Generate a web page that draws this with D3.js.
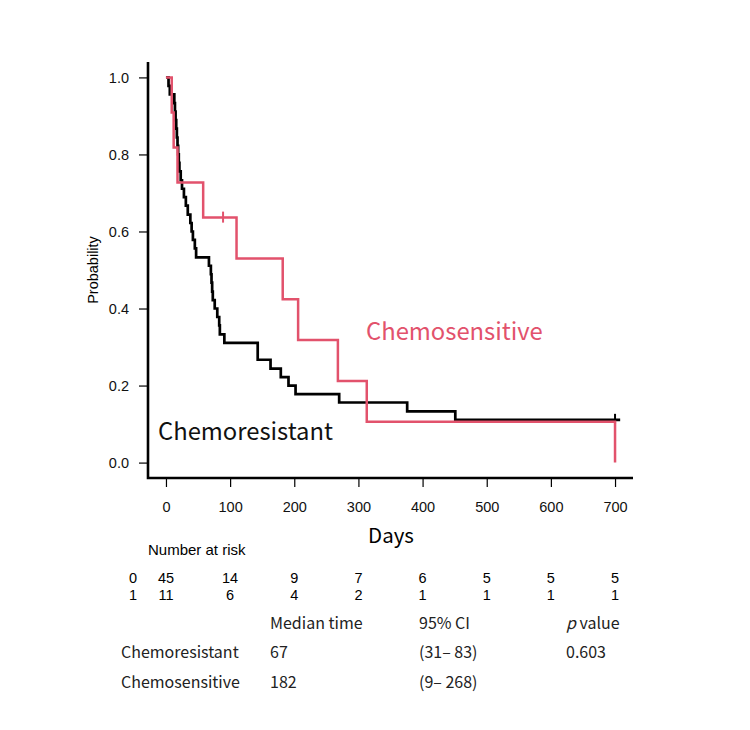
<!DOCTYPE html>
<html>
<head>
<meta charset="utf-8">
<script src="https://cdn.jsdelivr.net/npm/d3@7"></script>
<style>
  body { margin: 0; background: #fff; }
  .tick text { font-family: "Liberation Sans", Arial, sans-serif; }
</style>
</head>
<body>
<div class="chart-container"></div>
<script>
//! DATA
const dayTicks = [0, 100, 200, 300, 400, 500, 600, 700]
const probTicks = [0, 0.2, 0.4, 0.6, 0.8, 1.0]

// Chemoresistant (group 0) KM steps
const resTimes = [0, 4, 6, 13, 14, 15, 16, 17, 18, 19, 20, 21, 23, 25, 28, 31, 34, 38, 40, 42, 45, 47,
  67, 70, 71, 72, 73, 76, 80, 83, 84, 91, 143, 163, 179, 191, 202, 270, 376, 451, 708]
const resSurv = [1.0, 0.978, 0.956, 0.933, 0.911, 0.889, 0.867, 0.844, 0.822, 0.800, 0.778, 0.756, 0.733,
  0.711, 0.689, 0.667, 0.644, 0.622, 0.600, 0.578, 0.556, 0.533,
  0.511, 0.489, 0.467, 0.444, 0.422, 0.400, 0.378, 0.356, 0.333, 0.311, 0.267, 0.244, 0.222, 0.200,
  0.178, 0.156, 0.133, 0.111, 0.111]
const resCensTimes = [700]
const resCensSurv = [0.111]

// Chemosensitive (group 1) KM steps
const sensTimes = [0, 9, 12, 18, 58, 110, 182, 206, 268, 313, 700]
const sensSurv = [1.0, 0.909, 0.818, 0.727, 0.636, 0.530, 0.424, 0.318, 0.212, 0.106, 0]
const sensCensTimes = [89]
const sensCensSurv = [0.636]

// number at risk
const riskGroups = ['0', '1']
const riskRes = [45, 14, 9, 7, 6, 5, 5, 5]
const riskSens = [11, 6, 4, 2, 1, 1, 1, 1]

// summary table
const groupNames = ['Chemoresistant', 'Chemosensitive']
const medianTimes = ['67', '182']
const ciTexts = ['(31\u2013 83)', '(9\u2013 268)']
const pValues = ['0.603', '']

//! CONSTS
const width = 750
const height = 730
const red = '#e2526c'
const sansR = '"Liberation Sans", Arial, sans-serif'
const sansJ = '"Noto Sans CJK JP", "Noto Sans", sans-serif'

//! SVG
const svg =
  d3.select('.chart-container')
    .append('svg')
    .attr('width', width)
    .attr('height', height)

//! SCALES
const xScale =
  d3.scaleLinear()
    .domain([-28, 728])
    .range([148, 633])

const yScale =
  d3.scaleLinear()
    .domain([-0.04, 1.04])
    .range([478, 62])

//! AXES
const xAxis = d3.axisBottom(xScale).tickValues(dayTicks).tickSize(9).tickPadding(15).tickFormat(d3.format('d'))
const yAxis = d3.axisLeft(yScale).tickValues(probTicks).tickSize(9).tickPadding(10).tickFormat(d3.format('.1f'))

svg.append('g')
  .attr('transform', `translate(0,${478})`)
  .call(xAxis)
  .attr('font-size', 14.5)
  .call(g => g.select('.domain').remove())
  .call(g => g.selectAll('.tick line').attr('stroke', '#000').attr('stroke-width', 1.2))
  .call(g => g.selectAll('.tick text').attr('fill', '#111'))

svg.append('g')
  .attr('transform', `translate(${148},0)`)
  .call(yAxis)
  .attr('font-size', 14.5)
  .call(g => g.select('.domain').remove())
  .call(g => g.selectAll('.tick line').attr('stroke', '#000').attr('stroke-width', 1.2))
  .call(g => g.selectAll('.tick text').attr('fill', '#111'))

// L-shaped box
svg.append('path')
  .attr('d', `M${xScale.range()[0]},${yScale.range()[1]}V${yScale.range()[0]}H${xScale.range()[1]}`)
  .attr('fill', 'none')
  .attr('stroke', '#000')
  .attr('stroke-width', 2.6)

svg.append('text')
  .attr('transform', `translate(98,${yScale(0.5)}) rotate(-90)`)
  .attr('text-anchor', 'middle')
  .attr('font-family', sansR)
  .attr('font-size', 14.5)
  .text('Probability')

svg.append('text')
  .attr('x', 391)
  .attr('y', 543)
  .attr('text-anchor', 'middle')
  .attr('font-family', sansJ)
  .attr('font-size', 20.5)
  .text('Days')

//! CURVES
const line = d3.line()
  .x(d => xScale(d[0]))
  .y(d => yScale(d[1]))
  .curve(d3.curveStepAfter)

const groups = [
  { times: resTimes, surv: resSurv, ct: resCensTimes, cs: resCensSurv, color: '#000', w: 2.7 },
  { times: sensTimes, surv: sensSurv, ct: sensCensTimes, cs: sensCensSurv, color: red, w: 2.5 }
]

groups.forEach(g => {
  svg.append('path')
    .datum(g.times.map((t, i) => [t, g.surv[i]]))
    .attr('d', line)
    .attr('fill', 'none')
    .attr('stroke', g.color)
    .attr('stroke-width', g.w)

  svg.selectAll(null)
    .data(g.ct.map((t, i) => [t, g.cs[i]]))
    .enter()
    .append('line')
    .attr('x1', d => xScale(d[0]))
    .attr('x2', d => xScale(d[0]))
    .attr('y1', d => yScale(d[1]) - 6)
    .attr('y2', d => yScale(d[1]) + 5)
    .attr('stroke', g.color)
    .attr('stroke-width', 2)
})

//! LABELS
svg.append('text')
  .attr('x', 158)
  .attr('y', 440)
  .attr('font-family', sansJ)
  .attr('font-size', 23.8)
  .attr('fill', '#111')
  .text('Chemoresistant')

svg.append('text')
  .attr('x', 366)
  .attr('y', 340)
  .attr('font-family', sansJ)
  .attr('font-size', 23.8)
  .attr('fill', red)
  .text('Chemosensitive')

//! NUMBER AT RISK
svg.append('text')
  .attr('x', 148)
  .attr('y', 555)
  .attr('font-family', sansR)
  .attr('font-size', 15)
  .text('Number at risk')

const riskRows = [riskRes, riskSens]
riskRows.forEach((row, r) => {
  const yy = 583 + r * 17
  svg.append('text')
    .attr('x', 133)
    .attr('y', yy)
    .attr('text-anchor', 'middle')
    .attr('font-family', sansR)
    .attr('font-size', 14.5)
    .text(riskGroups[r])
  svg.selectAll(null)
    .data(row)
    .enter()
    .append('text')
    .attr('x', (d, i) => xScale(dayTicks[i]))
    .attr('y', yy)
    .attr('text-anchor', 'middle')
    .attr('font-family', sansR)
    .attr('font-size', 14.5)
    .text(d => d)
})

//! SUMMARY TABLE
const colX = [121, 270, 419, 566]
const tableFont = 16
const tcol = '#222'

const header = svg.append('g')
  .attr('font-family', sansJ)
  .attr('font-size', tableFont)
  .attr('fill', tcol)
header.append('text').attr('x', colX[1]).attr('y', 629).text('Median time')
header.append('text').attr('x', colX[2]).attr('y', 629).text('95% CI')
const pv = header.append('text').attr('x', colX[3]).attr('y', 629)
pv.append('tspan').attr('font-style', 'italic').text('p')
pv.append('tspan').text(' value')

groupNames.forEach((name, i) => {
  const yy = 658 + i * 30
  const row = svg.append('g')
    .attr('font-family', sansJ)
    .attr('font-size', tableFont)
    .attr('fill', tcol)
  row.append('text').attr('x', colX[0]).attr('y', yy).text(name)
  row.append('text').attr('x', colX[1]).attr('y', yy).text(medianTimes[i])
  row.append('text').attr('x', colX[2]).attr('y', yy).text(ciTexts[i])
  row.append('text').attr('x', colX[3]).attr('y', yy).text(pValues[i])
})
</script>
</body>
</html>
